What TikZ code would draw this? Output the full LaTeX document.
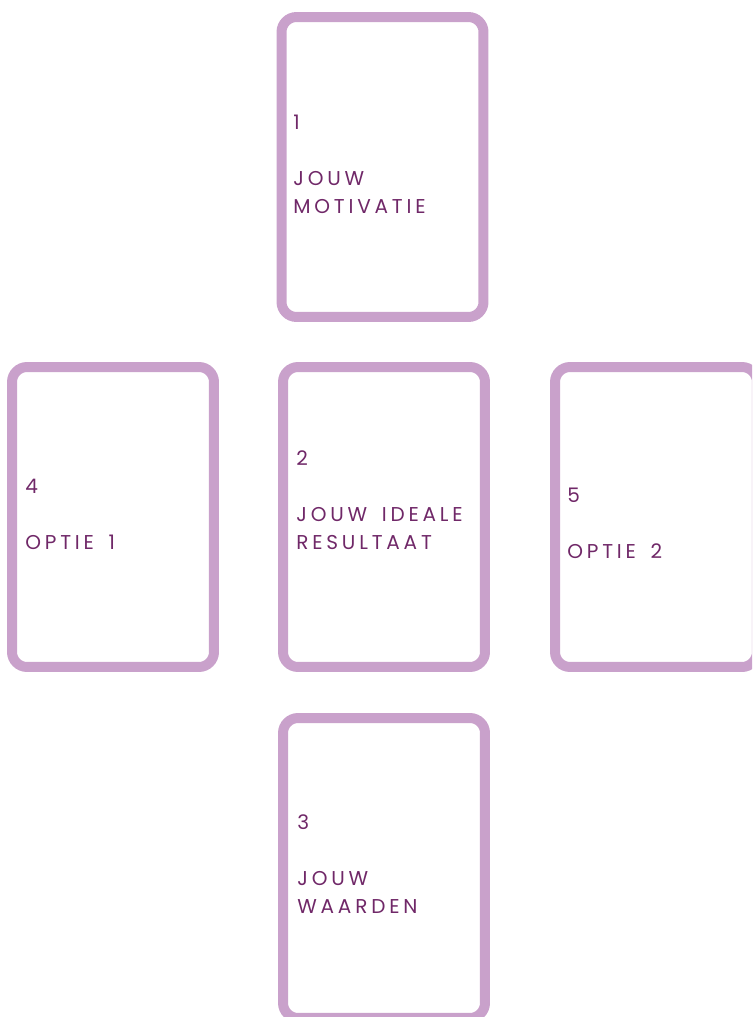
\documentclass[tikz,border=0pt]{standalone}
\usepackage{fontspec}
\setmainfont{Poppins}
\newfontfamily\cardfont[LetterSpace=19, WordSpace=1.6]{Poppins}
\usetikzlibrary{positioning}
\definecolor{cardline}{RGB}{201,161,203}
\definecolor{cardtext}{RGB}{112,40,104}
\tikzstyle{card} = [rectangle, draw=cardline, line width=0.2cm, rounded corners=0.3cm, minimum width=4.04cm, minimum height=6cm]
\tikzstyle{cardlabel} = [anchor=base west, inner sep=0pt, align=left, text=cardtext, font=\fontsize{11.4}{15.9}\cardfont]

\begin{document}
\begin{tikzpicture}[x=0.02cm, y=-0.02cm]

        \useasboundingbox (0, 0) rectangle (752, 1017);
        \clip (0, 0) rectangle (752, 1017);

        \node[card] at (382.5, 167) (Motivatie) {};
        \node[card] at (113, 517) (OptieEen) {};
        \node[card] at (384, 517) (Resultaat) {};
        \node[card] at (656, 517) (OptieTwee) {};
        \node[card] at (384, 868) (Waarden) {};

        % base anchor sits on the last line
        \node[cardlabel] at (293, 213) (MotivatieText) {1\\[15.9pt]JOUW\\MOTIVATIE};
        \node[cardlabel] at (25, 549) (OptieEenText) {4\\[15.9pt]OPTIE 1};
        \node[cardlabel] at (296, 549) (ResultaatText) {2\\[15.9pt]JOUW IDEALE\\RESULTAAT};
        \node[cardlabel] at (567, 558) (OptieTweeText) {5\\[15.9pt]OPTIE 2};
        \node[cardlabel] at (297, 913) (WaardenText) {3\\[15.9pt]JOUW\\WAARDEN};

    \end{tikzpicture}
\end{document}
